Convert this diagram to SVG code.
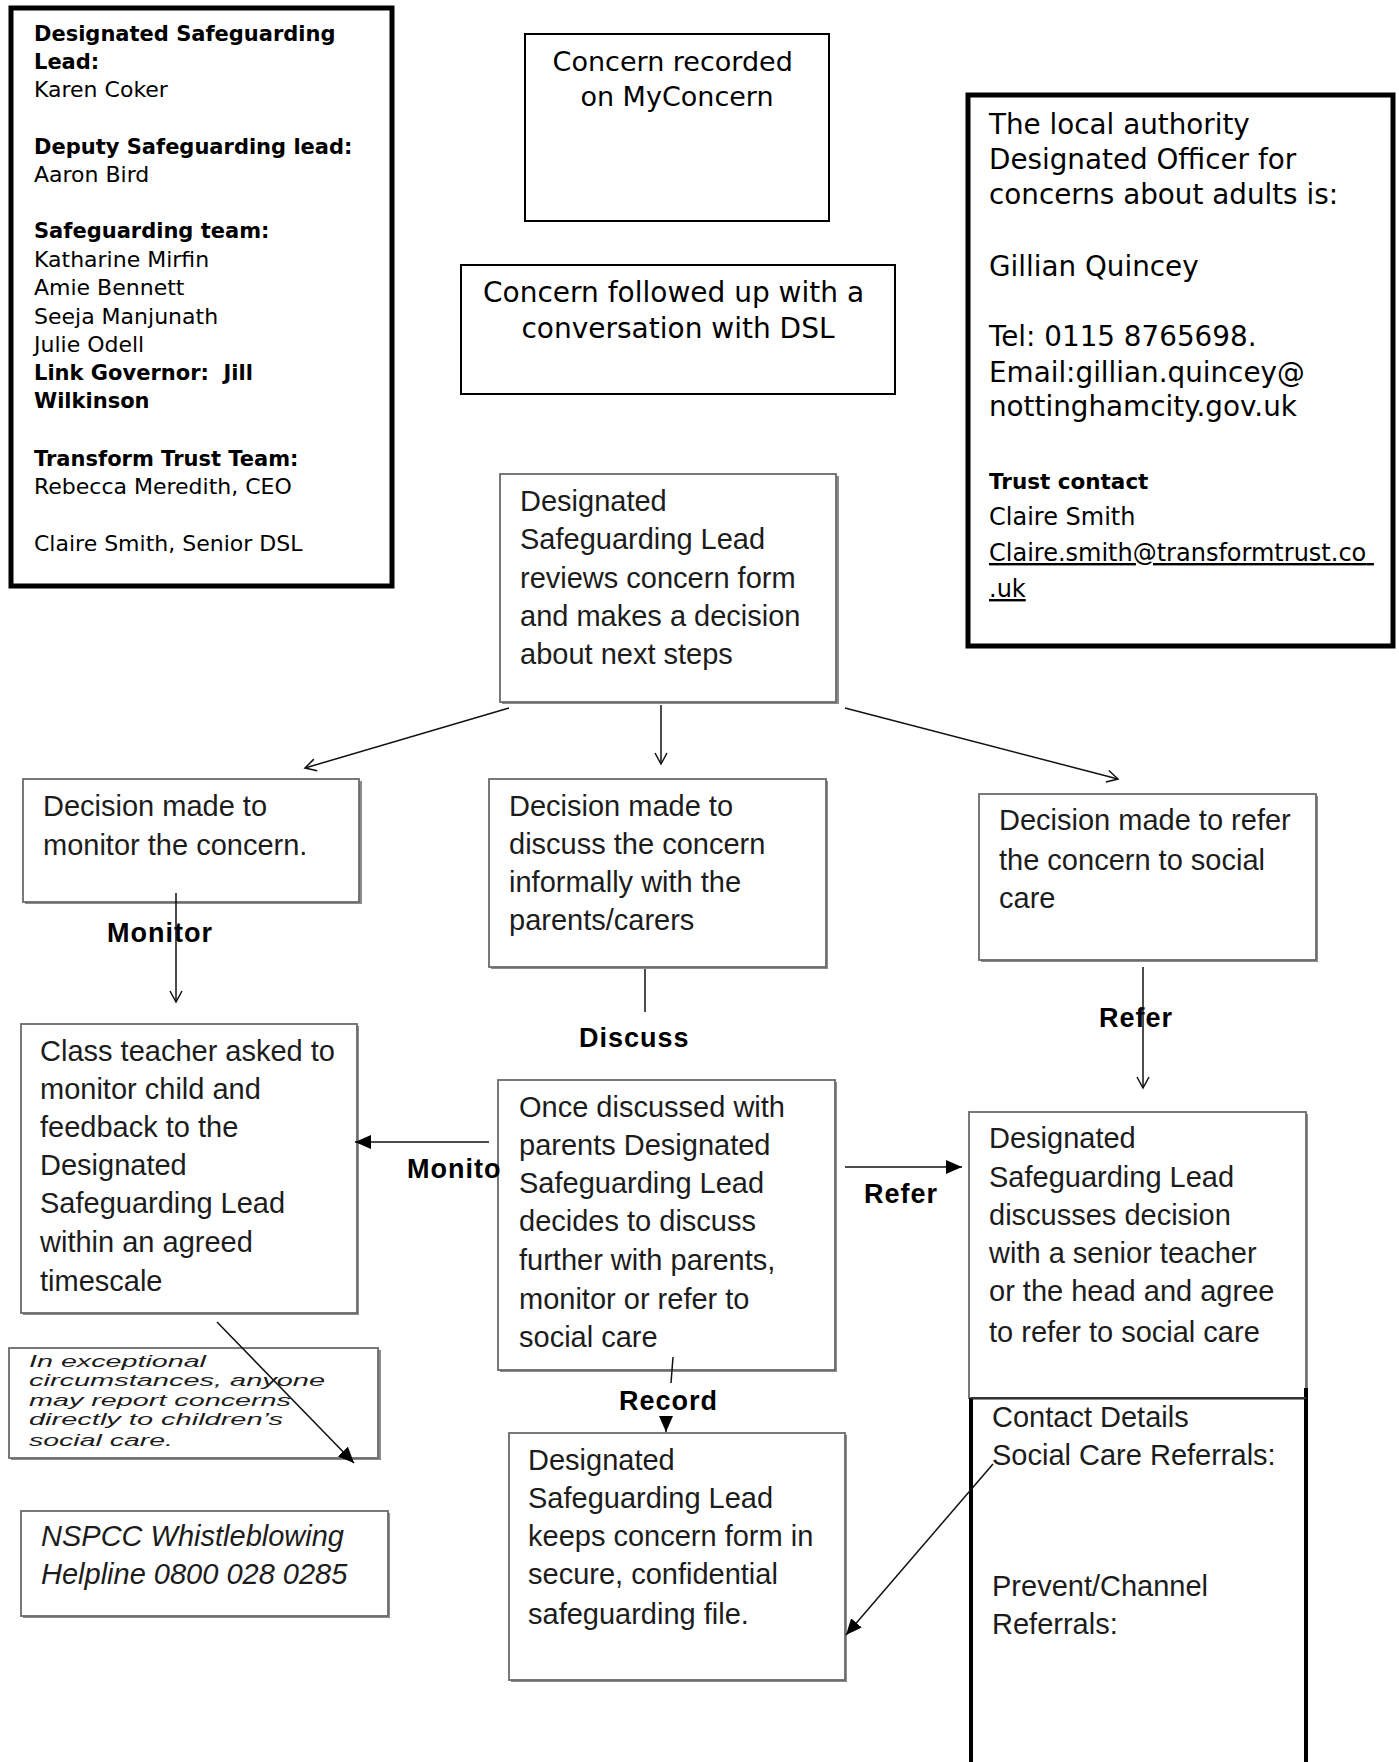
<svg xmlns="http://www.w3.org/2000/svg" width="1399" height="1762" viewBox="0 0 1399 1762">
<defs>
<style>
.bg{fill:#ffffff}
.thick{fill:#fff;stroke:#000;stroke-width:5}
.plain{fill:#fff;stroke:#000;stroke-width:2}
.shadow{fill:#8c8c8c}
.flow{fill:#fff;stroke:#6a6a6a;stroke-width:1.8}
.sans{font-family:"DejaVu Sans","Noto Sans",sans-serif;fill:#000}
.b{font-weight:bold;font-size:21px}
.arial{font-family:"Liberation Sans",Arial,sans-serif;fill:#1c1c1c;font-size:29px}
.lbl{font-family:"Liberation Sans",Arial,sans-serif;fill:#000;font-size:27px;font-weight:bold;letter-spacing:1px}
.conn{stroke:#111;stroke-width:1.5;fill:none}
</style>
<marker id="open" viewBox="0 0 12 12" refX="11" refY="6" markerWidth="12" markerHeight="12" markerUnits="userSpaceOnUse" orient="auto" overflow="visible">
<path d="M0,0 L11,6 L0,12" fill="none" stroke="#111" stroke-width="1.5"/>
</marker>
<marker id="fill" viewBox="0 0 16 14" refX="16" refY="7" markerWidth="16" markerHeight="14" markerUnits="userSpaceOnUse" orient="auto">
<path d="M0,0 L16,7 L0,14 Z" fill="#000"/>
</marker>
</defs>
<rect class="bg" x="0" y="0" width="1399" height="1762"/>

<g id="box-dsl-team">
<rect class="thick" x="11" y="8" width="381" height="578"/>
<text class="sans" font-size="22" xml:space="preserve">
<tspan x="34" y="41" class="b">Designated Safeguarding</tspan>
<tspan x="34" y="69" class="b">Lead:</tspan>
<tspan x="34" y="97">Karen Coker</tspan>
<tspan x="34" y="154" class="b">Deputy Safeguarding lead:</tspan>
<tspan x="34" y="182">Aaron Bird</tspan>
<tspan x="34" y="238" class="b">Safeguarding team:</tspan>
<tspan x="34" y="267">Katharine Mirfin</tspan>
<tspan x="34" y="295">Amie Bennett</tspan>
<tspan x="34" y="324">Seeja Manjunath</tspan>
<tspan x="34" y="352">Julie Odell</tspan>
<tspan x="34" y="380" class="b">Link Governor:  Jill</tspan>
<tspan x="34" y="408" class="b">Wilkinson</tspan>
<tspan x="34" y="466" class="b">Transform Trust Team:</tspan>
<tspan x="34" y="494">Rebecca Meredith, CEO</tspan>
<tspan x="34" y="551">Claire Smith, Senior DSL</tspan>
</text>
</g>

<g id="box-recorded">
<rect class="plain" x="525" y="34" width="304" height="187"/>
<text class="sans" font-size="27" text-anchor="middle">
<tspan x="677" y="71">Concern recorded</tspan>
<tspan x="677" y="106">on MyConcern</tspan>
</text>
</g>

<g id="box-followed">
<rect class="plain" x="461" y="265" width="434" height="129"/>
<text class="sans" font-size="28" text-anchor="middle">
<tspan x="678" y="302">Concern followed up with a</tspan>
<tspan x="678" y="338">conversation with DSL</tspan>
</text>
</g>

<g id="box-lado">
<rect class="thick" x="968" y="95" width="425" height="551"/>
<text class="sans" font-size="27.8">
<tspan x="989" y="134">The local authority</tspan>
<tspan x="989" y="169">Designated Officer for</tspan>
<tspan x="989" y="204">concerns about adults is:</tspan>
<tspan x="989" y="276">Gillian Quincey</tspan>
<tspan x="989" y="346">Tel: 0115 8765698.</tspan>
<tspan x="989" y="382">Email:gillian.quincey@</tspan>
<tspan x="989" y="416">nottinghamcity.gov.uk</tspan>
</text>
<text class="sans" font-size="24">
<tspan x="989" y="489" font-weight="bold" font-size="21.5">Trust contact</tspan>
<tspan x="989" y="525">Claire Smith</tspan>
</text>
<text class="sans" font-size="24" text-decoration="underline">
<tspan x="989" y="561">Claire.smith@transformtrust.co</tspan>
<tspan x="989" y="597">.uk</tspan>
</text>
</g>

<g id="box-review">
<rect class="shadow" x="502" y="476" width="337" height="228"/>
<rect class="flow" x="500" y="474" width="336" height="228"/>
<text class="arial">
<tspan x="520" y="511">Designated</tspan>
<tspan x="520" y="549">Safeguarding Lead</tspan>
<tspan x="520" y="588">reviews concern form</tspan>
<tspan x="520" y="626">and makes a decision</tspan>
<tspan x="520" y="664">about next steps</tspan>
</text>
</g>

<g id="box-monitor">
<rect class="shadow" x="25" y="781" width="337" height="123"/>
<rect class="flow" x="23" y="779" width="336" height="123"/>
<text class="arial">
<tspan x="43" y="816">Decision made to</tspan>
<tspan x="43" y="855">monitor the concern.</tspan>
</text>
</g>

<g id="box-discuss">
<rect class="shadow" x="491" y="781" width="337" height="188"/>
<rect class="flow" x="489" y="779" width="337" height="188"/>
<text class="arial">
<tspan x="509" y="816">Decision made to</tspan>
<tspan x="509" y="854">discuss the concern</tspan>
<tspan x="509" y="892">informally with the</tspan>
<tspan x="509" y="930">parents/carers</tspan>
</text>
</g>

<g id="box-refer">
<rect class="shadow" x="981" y="796" width="337" height="166"/>
<rect class="flow" x="979" y="794" width="337" height="166"/>
<text class="arial">
<tspan x="999" y="830">Decision made to refer</tspan>
<tspan x="999" y="870">the concern to social</tspan>
<tspan x="999" y="908">care</tspan>
</text>
</g>

<g id="box-class-teacher">
<rect class="shadow" x="23" y="1026" width="336" height="289"/>
<rect class="flow" x="21" y="1024" width="336" height="289"/>
<text class="arial">
<tspan x="40" y="1061">Class teacher asked to</tspan>
<tspan x="40" y="1099">monitor child and</tspan>
<tspan x="40" y="1137">feedback to the</tspan>
<tspan x="40" y="1175">Designated</tspan>
<tspan x="40" y="1213">Safeguarding Lead</tspan>
<tspan x="40" y="1252">within an agreed</tspan>
<tspan x="40" y="1291">timescale</tspan>
</text>
</g>

<g id="box-once-discussed">
<rect class="shadow" x="500" y="1082" width="337" height="290"/>
<rect class="flow" x="498" y="1080" width="337" height="290"/>
<text class="arial">
<tspan x="519" y="1117">Once discussed with</tspan>
<tspan x="519" y="1155">parents Designated</tspan>
<tspan x="519" y="1193">Safeguarding Lead</tspan>
<tspan x="519" y="1231">decides to discuss</tspan>
<tspan x="519" y="1270">further with parents,</tspan>
<tspan x="519" y="1309">monitor or refer to</tspan>
<tspan x="519" y="1347">social care</tspan>
</text>
</g>

<g id="box-dsl-discusses">
<rect class="shadow" x="971" y="1114" width="337" height="286"/>
<rect class="flow" x="969" y="1112" width="337" height="286"/>
<text class="arial">
<tspan x="989" y="1148">Designated</tspan>
<tspan x="989" y="1187">Safeguarding Lead</tspan>
<tspan x="989" y="1225">discusses decision</tspan>
<tspan x="989" y="1263">with a senior teacher</tspan>
<tspan x="989" y="1301">or the head and agree</tspan>
<tspan x="989" y="1342">to refer to social care</tspan>
</text>
</g>

<g id="box-contacts">
<path d="M971,1398 L971,1762 M1306,1388 L1306,1762" stroke="#000" stroke-width="4" fill="none"/>
<line x1="971" y1="1398" x2="1306" y2="1398" stroke="#333" stroke-width="2"/>
<text class="arial">
<tspan x="992" y="1427">Contact Details</tspan>
<tspan x="992" y="1465">Social Care Referrals:</tspan>
<tspan x="992" y="1596">Prevent/Channel</tspan>
<tspan x="992" y="1634">Referrals:</tspan>
</text>
</g>

<g id="box-record">
<rect class="shadow" x="511" y="1435" width="336" height="247"/>
<rect class="flow" x="509" y="1433" width="336" height="247"/>
<text class="arial">
<tspan x="528" y="1470">Designated</tspan>
<tspan x="528" y="1508">Safeguarding Lead</tspan>
<tspan x="528" y="1546">keeps concern form in</tspan>
<tspan x="528" y="1584">secure, confidential</tspan>
<tspan x="528" y="1624">safeguarding file.</tspan>
</text>
</g>

<g id="box-exceptional">
<rect class="shadow" x="11" y="1350" width="370" height="110"/>
<rect class="flow" x="9" y="1348" width="369" height="110"/>
<text class="arial" font-style="italic" style="font-size:16.5px">
<tspan x="29" y="1367" textLength="177" lengthAdjust="spacingAndGlyphs">In exceptional</tspan>
<tspan x="29" y="1386" textLength="296" lengthAdjust="spacingAndGlyphs">circumstances, anyone</tspan>
<tspan x="29" y="1406" textLength="262" lengthAdjust="spacingAndGlyphs">may report concerns</tspan>
<tspan x="29" y="1425" textLength="254" lengthAdjust="spacingAndGlyphs">directly to children’s</tspan>
<tspan x="29" y="1446" textLength="144" lengthAdjust="spacingAndGlyphs">social care.</tspan>
</text>
</g>

<g id="box-nspcc">
<rect class="shadow" x="23" y="1513" width="367" height="105"/>
<rect class="flow" x="21" y="1511" width="367" height="105"/>
<text class="arial" font-style="italic">
<tspan x="41" y="1546">NSPCC Whistleblowing</tspan>
<tspan x="41" y="1584">Helpline 0800 028 0285</tspan>
</text>
</g>

<g id="labels">
<text class="lbl" x="107" y="942">Monitor</text>
<text class="lbl" x="579" y="1047">Discuss</text>
<text class="lbl" x="1099" y="1027">Refer</text>
<text class="lbl" x="407" y="1178">Monito</text>
<text class="lbl" x="864" y="1203">Refer</text>
<text class="lbl" x="619" y="1410">Record</text>
</g>

<g id="connectors">
<line class="conn" x1="509" y1="708" x2="305" y2="768" marker-end="url(#open)"/>
<line class="conn" x1="661" y1="705" x2="661" y2="764" marker-end="url(#open)"/>
<line class="conn" x1="845" y1="708" x2="1118" y2="779" marker-end="url(#open)"/>
<line class="conn" x1="176" y1="893" x2="176" y2="1002" marker-end="url(#open)"/>
<line class="conn" x1="645" y1="969" x2="645" y2="1012"/>
<line class="conn" x1="1143" y1="967" x2="1143" y2="1088" marker-end="url(#open)"/>
<line class="conn" x1="489" y1="1142" x2="355" y2="1142" marker-end="url(#fill)"/>
<line class="conn" x1="845" y1="1167" x2="962" y2="1167" marker-end="url(#fill)"/>
<line class="conn" x1="673" y1="1357" x2="671" y2="1383"/>
<line class="conn" x1="666" y1="1416" x2="666" y2="1432" marker-end="url(#fill)"/>
<line class="conn" x1="217" y1="1322" x2="354" y2="1463" marker-end="url(#fill)"/>
<line class="conn" x1="993" y1="1464" x2="846" y2="1635" marker-end="url(#fill)"/>
</g>
</svg>
